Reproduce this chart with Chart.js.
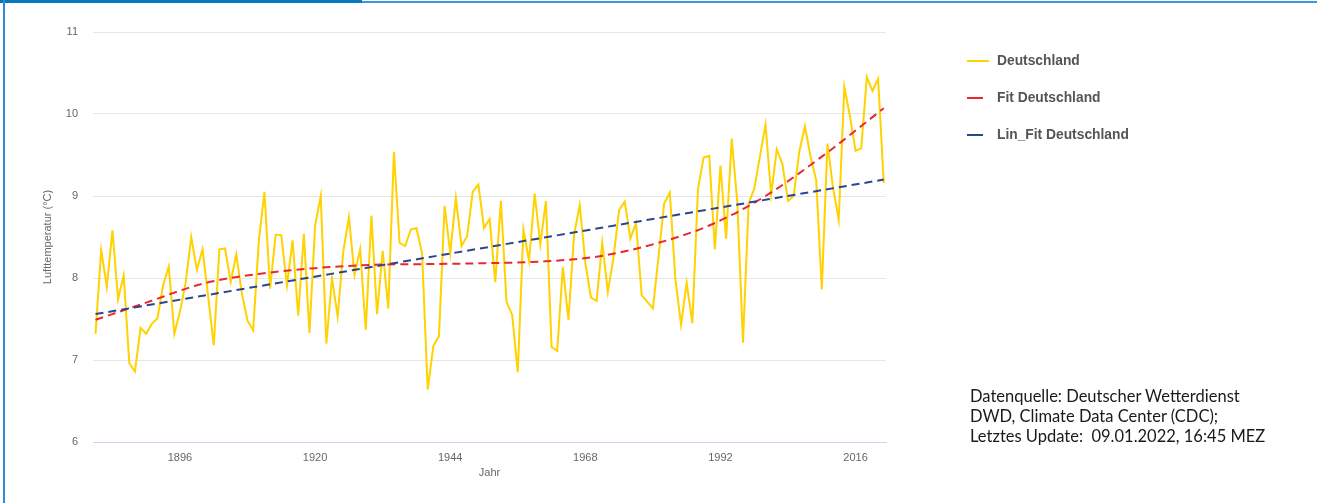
<!DOCTYPE html>
<html>
<head>
<meta charset="utf-8">
<script src="https://cdn.jsdelivr.net/npm/chart.js@4/dist/chart.umd.min.js"></script>
<style>
  html, body { margin: 0; padding: 0; background: #fff; }
  #wrap { position: relative; width: 1317px; height: 503px; overflow: hidden; background: #fff; }
  #chartBox { position: absolute; left: 0; top: 0; width: 1317px; height: 503px; }
  .frameTopThick { position: absolute; left: 0; top: 0; width: 362px; height: 3px; background: #0a78c0; }
  .frameTopThin { position: absolute; left: 362px; top: 1px; width: 955px; height: 2px; background: #3d98da; }
  .frameLeft { position: absolute; left: 3px; top: 0; width: 2px; height: 503px; background: #2a8fd6; }
  #legend { position: absolute; left: 0; top: 0; }
  .lg { position: absolute; left: 967px; height: 16px; display: flex; align-items: center;
        font-family: "Liberation Sans", Arial, sans-serif; font-weight: bold; font-size: 13.8px;
        color: #555; white-space: nowrap; line-height: 16px; }
  .lg .sym { display: inline-block; height: 2px; margin-right: 0; }
  .lg .txt { position: absolute; left: 30px; top: 0; }
  #source { position: absolute; left: 970px; top: 387px; font-family: Lato, "Open Sans", sans-serif;
            font-size: 16.5px; line-height: 19.8px; color: #1a1a1a; white-space: pre; }
</style>
</head>
<body>
<div id="wrap">
  <div id="chartBox"><canvas id="c"></canvas></div>
  <div class="frameTopThick"></div>
  <div class="frameTopThin"></div>
  <div class="frameLeft"></div>
  <div id="legend"></div>
  <div id="source">Datenquelle: Deutscher Wetterdienst
DWD, Climate Data Center (CDC);
Letztes Update:  09.01.2022, 16:45 MEZ</div>
</div>
<script>
// ---- data ----
const seriesNames = ["Deutschland", "Fit Deutschland", "Lin_Fit Deutschland"];
const firstYear = 1881;
const temperature = [
  7.32, 8.34, 7.89, 8.58, 7.74, 8.03, 6.96, 6.86, 7.39, 7.32,
  7.44, 7.51, 7.91, 8.14, 7.32, 7.59, 7.94, 8.50, 8.10, 8.35,
  7.78, 7.18, 8.35, 8.36, 7.95, 8.29, 7.81, 7.48, 7.36, 8.45,
  9.05, 7.87, 8.53, 8.52, 7.91, 8.46, 7.54, 8.54, 7.33, 8.64,
  9.00, 7.20, 8.00, 7.53, 8.32, 8.74, 8.04, 8.35, 7.37, 8.76,
  7.56, 8.33, 7.63, 9.54, 8.43, 8.39, 8.59, 8.61, 8.30, 6.64,
  7.17, 7.29, 8.88, 8.30, 8.98, 8.39, 8.51, 9.05, 9.14, 8.61,
  8.72, 7.95, 8.94, 7.71, 7.55, 6.85, 8.59, 8.21, 9.03, 8.41,
  8.94, 7.16, 7.11, 8.13, 7.49, 8.53, 8.89, 8.18, 7.76, 7.72,
  8.43, 7.83, 8.25, 8.83, 8.93, 8.48, 8.67, 7.79, 7.71, 7.63,
  8.26, 8.91, 9.04, 7.98, 7.43, 7.94, 7.45, 9.08, 9.47, 9.49,
  8.35, 9.37, 8.48, 9.70, 8.91, 7.21, 8.91, 9.09, 9.48, 9.87,
  9.02, 9.57, 9.39, 8.94, 9.00, 9.54, 9.85, 9.48, 9.19, 7.86,
  9.64, 9.10, 8.71, 10.33, 9.97, 9.55, 9.58, 10.45, 10.28, 10.43,
  9.16
];
const years = temperature.map((_, i) => firstYear + i);
// polynomial fit at sample years
const fitYears  = [1881, 1890, 1900, 1910, 1920, 1930, 1940, 1950, 1960, 1970, 1980, 1990, 2000, 2010, 2021];
const fitValues = [7.49, 7.70, 7.93, 8.05, 8.12, 8.16, 8.17, 8.18, 8.20, 8.26, 8.41, 8.64, 9.00, 9.48, 10.07];
// linear fit end points
const linYears  = [1881, 2021];
const linValues = [7.56, 9.20];
const xTicks = [1896, 1920, 1944, 1968, 1992, 2016];
const yTicks = [6, 7, 8, 9, 10, 11];
const colors = ["#ffd200", "#e8282e", "#2b4592"];

// ---- chart ----
const datasets = [
  { label: seriesNames[0], data: years.map((y, i) => ({x: y, y: temperature[i]})),
    borderColor: colors[0], backgroundColor: colors[0], borderWidth: 2, pointRadius: 0, tension: 0, order: 3 },
  { label: seriesNames[1], data: fitYears.map((y, i) => ({x: y, y: fitValues[i]})),
    borderColor: colors[1], backgroundColor: colors[1], borderWidth: 2, pointRadius: 0,
    borderDash: [8, 5], cubicInterpolationMode: 'monotone', order: 2 },
  { label: seriesNames[2], data: linYears.map((y, i) => ({x: y, y: linValues[i]})),
    borderColor: colors[2], backgroundColor: colors[2], borderWidth: 2, pointRadius: 0,
    borderDash: [8, 5], order: 1 }
];

const axisFont = { family: "'Liberation Sans', Arial, sans-serif", size: 11 };

new Chart(document.getElementById('c'), {
  type: 'line',
  data: { datasets },
  options: {
    responsive: true,
    maintainAspectRatio: false,
    animation: false,
    layout: { padding: { left: 0, right: 431, top: 32, bottom: 0 } },
    plugins: { legend: { display: false }, tooltip: { enabled: false } },
    scales: {
      x: {
        type: 'linear',
        min: 1880.55, max: 2021.4,
        afterBuildTicks: (s) => { s.ticks = xTicks.map(v => ({ value: v })); },
        afterFit: (s) => { s.height = 61; },
        grid: { display: false, drawTicks: false },
        border: { display: true, color: '#ccd6eb', width: 1 },
        ticks: { color: '#666', font: axisFont, padding: 9, maxRotation: 0, autoSkip: false,
                 callback: (v) => String(v) },
        title: { display: true, text: 'Jahr', color: '#666', font: axisFont, padding: { top: 0, bottom: 23 } }
      },
      y: {
        type: 'linear',
        min: 6, max: 11,
        afterBuildTicks: (s) => { s.ticks = yTicks.map(v => ({ value: v })); },
        afterFit: (s) => { s.width = 93; },
        grid: { drawTicks: false,
                color: (ctx) => (ctx.tick && ctx.tick.value === 6) ? 'rgba(0,0,0,0)' : '#e6e6e6' },
        border: { display: false },
        ticks: { color: '#666', font: axisFont, padding: 15 },
        title: { display: true, text: 'Lufttemperatur (°C)', color: '#666', font: axisFont,
                 padding: { top: 41.5, bottom: 0 } }
      }
    }
  }
});

// ---- legend (HTML, from the dataset names/colours) ----
const legendTops = [53, 90, 127];
const symWidths = [22, 16, 16];
const lg = document.getElementById('legend');
seriesNames.forEach((name, i) => {
  const item = document.createElement('div');
  item.className = 'lg';
  item.style.top = legendTops[i] + 'px';
  const sym = document.createElement('span');
  sym.className = 'sym';
  sym.style.width = symWidths[i] + 'px';
  sym.style.background = colors[i];
  const txt = document.createElement('span');
  txt.className = 'txt';
  txt.textContent = name;
  item.appendChild(sym);
  item.appendChild(txt);
  lg.appendChild(item);
});
</script>
</body>
</html>
